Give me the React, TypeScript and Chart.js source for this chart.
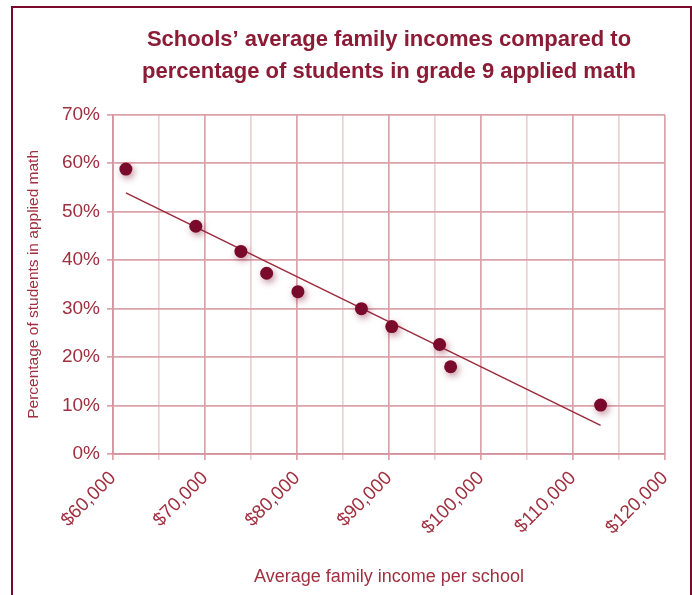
import React, { useEffect, useRef } from "react";
import { Chart, registerables } from "chart.js";

Chart.register(...registerables);

const incomes = [61400, 69000, 73900, 76700, 80100, 87000, 90300, 95500, 96700, 113000];
const appliedPct = [58.8, 47.0, 41.8, 37.3, 33.5, 30.0, 26.3, 22.6, 18.0, 10.1];
const trendX = [61400, 113000];
const trendY = [53.9, 5.9];

const titleLines = [
  "Schools\u2019 average family incomes compared to",
  "percentage of students in grade 9 applied math",
];
const xTitle = "Average family income per school";
const yTitle = "Percentage of students in applied math";

const FONT = "'Liberation Sans', Arial, sans-serif";
const MAROON = "#7a0a2b";
const TEXT = "#a0303f";
const GRID_MAJOR = "#dba2aa";
const GRID_MINOR = "#eed0d4";

const shadowPlugin = {
  id: "pointShadow",
  beforeDatasetDraw(chart: any, args: any) {
    if (args.index !== 0) return;
    const ctx = chart.ctx;
    ctx.save();
    ctx.shadowColor = "rgba(122,10,43,0.45)";
    ctx.shadowBlur = 7;
    ctx.shadowOffsetX = 2;
    ctx.shadowOffsetY = 3;
  },
  afterDatasetDraw(chart: any, args: any) {
    if (args.index !== 0) return;
    chart.ctx.restore();
  },
};

export default function App() {
  const ref = useRef<HTMLCanvasElement | null>(null);

  useEffect(() => {
    if (!ref.current) return;
    const isMajor = (v: number) => Math.round(v) % 10000 === 0;
    const chart = new Chart(ref.current, {
      type: "scatter",
      data: {
        datasets: [
          {
            label: "Schools",
            data: incomes.map((x, i) => ({ x, y: appliedPct[i] })),
            backgroundColor: MAROON,
            borderWidth: 0,
            pointRadius: 6.5,
            pointHoverRadius: 6.5,
          },
          {
            label: "Trend",
            type: "line",
            data: trendX.map((x, i) => ({ x, y: trendY[i] })),
            borderColor: "#9b2a3c",
            borderWidth: 1.5,
            pointRadius: 0,
            fill: false,
          } as any,
        ],
      },
      options: {
        responsive: false,
        animation: false,
        layout: { padding: { left: 20, right: 27, top: 0, bottom: 0 } },
        plugins: {
          legend: { display: false },
          tooltip: { enabled: false },
          title: {
            display: true,
            text: titleLines,
            color: "#8c1b35",
            fullSize: false,
            font: { family: FONT, size: 22, weight: "bold", lineHeight: 1.45 },
            padding: { top: 24, bottom: 27 },
          },
        },
        scales: {
          x: {
            type: "linear",
            min: 60000,
            max: 120000,
            afterFit(scale: any) {
              scale.height = 141;
              scale.paddingLeft = 0;
              scale.paddingRight = 0;
            },
            ticks: {
              stepSize: 5000,
              autoSkip: false,
              minRotation: 45,
              maxRotation: 45,
              padding: 7,
              color: TEXT,
              font: { family: FONT, size: 19 },
              callback: (v: any) =>
                isMajor(Number(v)) ? "$" + Number(v).toLocaleString("en-US") : "",
            },
            grid: {
              color: (c: any) => (c.tick && isMajor(c.tick.value) ? GRID_MAJOR : GRID_MINOR),
              tickColor: (c: any) => (c.tick && isMajor(c.tick.value) ? GRID_MAJOR : GRID_MINOR),
              lineWidth: 1.7,
              tickLength: 6,
            },
            border: { color: "#d4949e", width: 1.7 },
            title: {
              display: true,
              text: xTitle,
              color: TEXT,
              font: { family: FONT, size: 18 },
              padding: { top: 4, bottom: 7 },
            },
          },
          y: {
            type: "linear",
            min: 0,
            max: 70,
            afterFit(scale: any) {
              scale.width = 93;
              scale.paddingTop = 0;
              scale.paddingBottom = 0;
            },
            ticks: {
              stepSize: 10,
              padding: 7,
              color: TEXT,
              font: { family: FONT, size: 19 },
              callback: (v: any) => v + "%",
            },
            grid: {
              color: GRID_MAJOR,
              tickColor: GRID_MAJOR,
              lineWidth: 1.7,
              tickLength: 6,
            },
            border: { color: "#d4949e", width: 1.7 },
            title: {
              display: true,
              text: yTitle,
              color: TEXT,
              font: { family: FONT, size: 15.5 },
              padding: { top: 4, bottom: 4 },
            },
          },
        },
      },
      plugins: [shadowPlugin],
    });
    return () => chart.destroy();
  }, []);

  return (
    <div>
      <div
        style={{
          position: "fixed",
          left: 11,
          top: 6,
          width: 677,
          height: 640,
          border: "2px solid " + MAROON,
          background: "#fff",
        }}
      />
      <canvas
        ref={ref}
        width={692}
        height={595}
        style={{ position: "fixed", left: 0, top: 0, width: 692, height: 595 }}
      />
    </div>
  );
}
